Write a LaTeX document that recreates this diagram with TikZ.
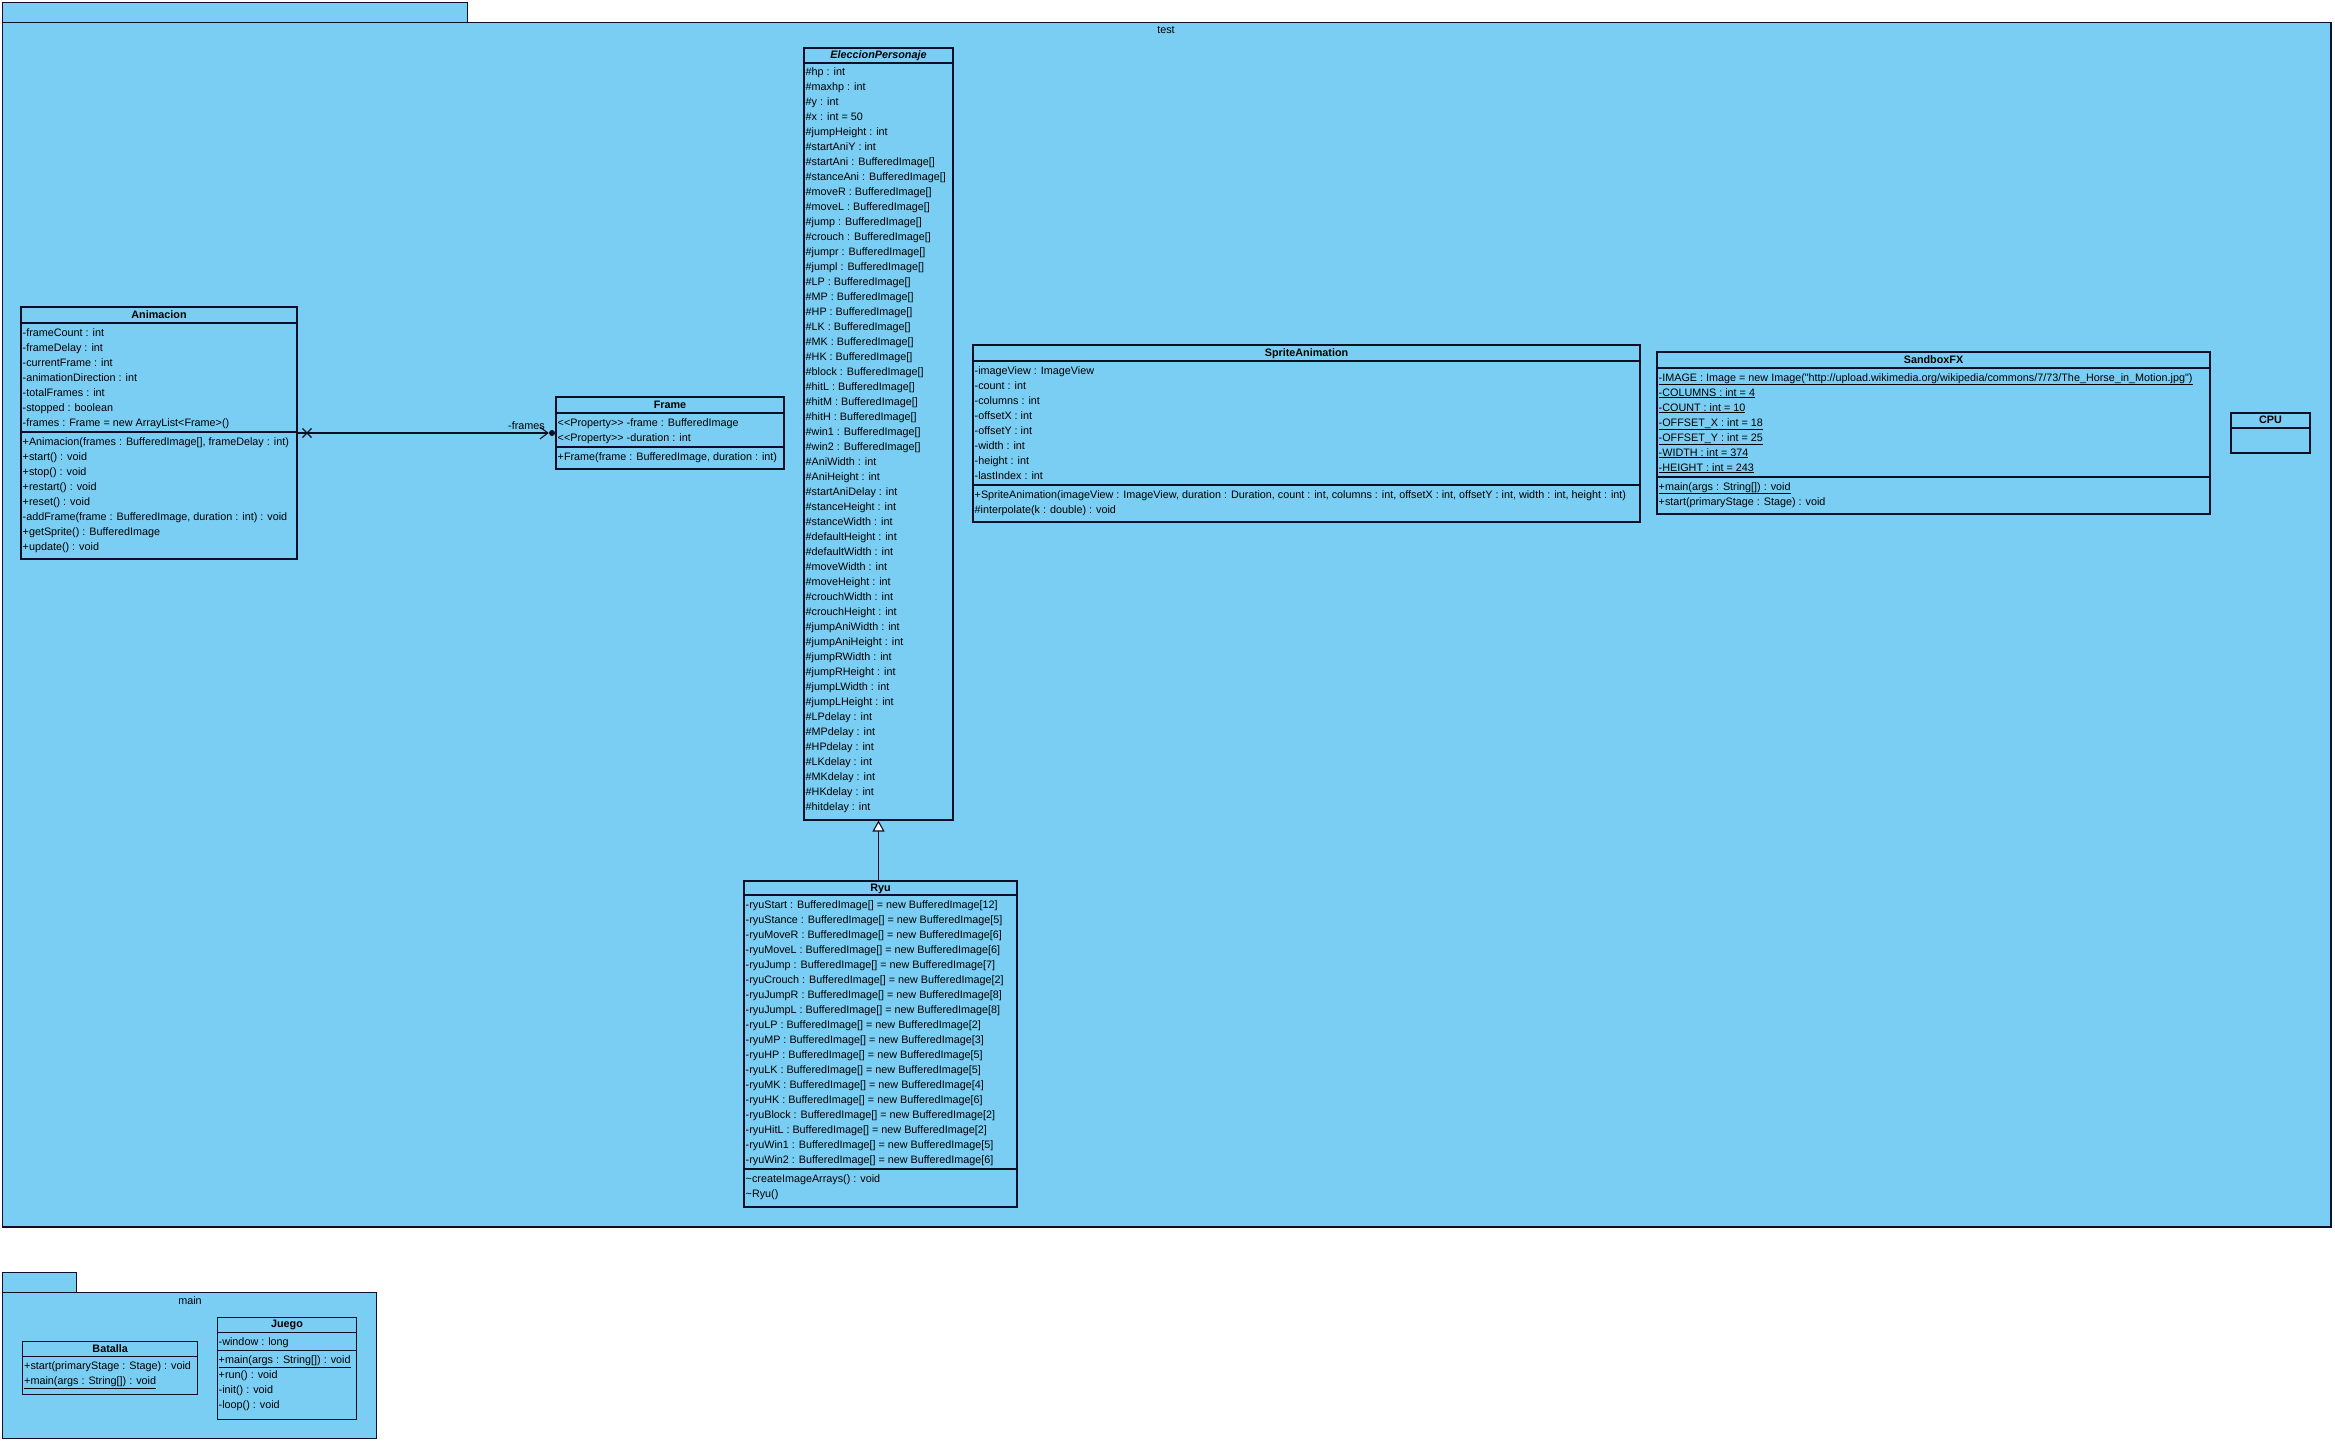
\documentclass[tikz,border=0pt]{standalone}
\usepackage{fontspec}
\setmainfont{Liberation Sans}[Ligatures=TeXOff]
\usetikzlibrary{fit,arrows.meta,shapes.misc}
\definecolor{fillc}{RGB}{122,206,243}
\definecolor{linec}{RGB}{15,15,40}
\newcommand{\rowfont}{\fontsize{10.8}{15}\selectfont}
\newcommand{\umlclass}[7]{%
  \node[cbox, fit={(#2,#3) (#4,#5)}] (#1) {};
  \draw[sepl] (#2,#6) -- (#4,#6);
  \node[hdr] (#1-title) at ({(#2+#4)/2},{(#3+#6)/2}) {#7};}
\newcommand{\usep}[3]{\draw[sepl] (#1,#3) -- (#2,#3);}
\newcommand{\crows}[4]{\foreach \t [count=\i] in {#4}{\node[row] (#1-\i) at (#2,{#3+15*(\i-1)}) {\t};}}
\newcommand{\stereo}[1]{<\kern0pt<#1>\kern0pt>}
\begin{document}
\begin{tikzpicture}[x=1pt,y=-1pt,
  cbox/.style={draw=linec, fill=fillc, line width=1.1pt, inner sep=0pt},
  pkg/.style={draw=linec, fill=fillc, line width=1.1pt, inner sep=0pt},
  sepl/.style={draw=linec, line width=1.1pt},
  row/.style={anchor=west, inner sep=0pt, font=\rowfont, text height=8pt, text depth=2pt},
  hdr/.style={inner sep=0pt, font=\rowfont\bfseries, text height=8pt, text depth=2pt},
  conn/.style={draw=linec, line width=1.1pt}]
\fill[white] (0,0) rectangle (2335,1443);
\useasboundingbox (0,0) rectangle (2335,1443);

% package test
\node[pkg, fit={(2.7,2.7) (467.7,22.3)}] (testtab) {};
\node[pkg, fit={(2.7,22.3) (2331,1227)}] (test) {};
\node[row, anchor=center] (test-lbl) at (1166,30) {test};

% package main
\node[pkg, fit={(2.7,1272.3) (76.7,1292.7)}] (maintab) {};
\node[pkg, fit={(2.7,1292.7) (376.7,1438.3)}] (main) {};
\node[row, anchor=center] (main-lbl) at (190,1301) {main};

% Animacion
\umlclass{anim}{21}{307}{297}{559}{323}{Animacion}
\crows{anim-a}{22.5}{333}{-frameCount : int,-frameDelay : int,-currentFrame : int,-animationDirection : int,-totalFrames : int,-stopped : boolean,-frames : Frame = new ArrayList<Frame>()}
\usep{21}{297}{432}
\crows{anim-m}{22.5}{442}{{+Animacion(frames : BufferedImage[], frameDelay : int)},+start() : void,+stop() : void,+restart() : void,+reset() : void,{-addFrame(frame : BufferedImage, duration : int) : void},+getSprite() : BufferedImage,+update() : void}

% Frame
\umlclass{frame}{556}{397}{784}{469}{413}{Frame}
\crows{frame-a}{557.5}{423}{\stereo{Property} -frame : BufferedImage,\stereo{Property} -duration : int}
\usep{556}{784}{447}
\crows{frame-m}{557.5}{457}{{+Frame(frame : BufferedImage, duration : int)}}

% EleccionPersonaje
\umlclass{ep}{804}{48}{953}{820}{63}{\itshape EleccionPersonaje}
\crows{ep-a}{805.5}{72.5}{\#hp : int,\#maxhp : int,\#y : int,\#x : int = 50,\#jumpHeight : int,\#startAniY : int,\#startAni : BufferedImage[],\#stanceAni : BufferedImage[],\#moveR : BufferedImage[],\#moveL : BufferedImage[],\#jump : BufferedImage[],\#crouch : BufferedImage[],\#jumpr : BufferedImage[],\#jumpl : BufferedImage[],\#LP : BufferedImage[],\#MP : BufferedImage[],\#HP : BufferedImage[],\#LK : BufferedImage[],\#MK : BufferedImage[],\#HK : BufferedImage[],\#block : BufferedImage[],\#hitL : BufferedImage[],\#hitM : BufferedImage[],\#hitH : BufferedImage[],\#win1 : BufferedImage[],\#win2 : BufferedImage[],\#AniWidth : int,\#AniHeight : int,\#startAniDelay : int,\#stanceHeight : int,\#stanceWidth : int,\#defaultHeight : int,\#defaultWidth : int,\#moveWidth : int,\#moveHeight : int,\#crouchWidth : int,\#crouchHeight : int,\#jumpAniWidth : int,\#jumpAniHeight : int,\#jumpRWidth : int,\#jumpRHeight : int,\#jumpLWidth : int,\#jumpLHeight : int,\#LPdelay : int,\#MPdelay : int,\#HPdelay : int,\#LKdelay : int,\#MKdelay : int,\#HKdelay : int,\#hitdelay : int}

% Ryu
\umlclass{ryu}{744}{881}{1017}{1207}{895}{Ryu}
\crows{ryu-a}{745.5}{905}{-ryuStart : BufferedImage[] = new BufferedImage[12],-ryuStance : BufferedImage[] = new BufferedImage[5],-ryuMoveR : BufferedImage[] = new BufferedImage[6],-ryuMoveL : BufferedImage[] = new BufferedImage[6],-ryuJump : BufferedImage[] = new BufferedImage[7],-ryuCrouch : BufferedImage[] = new BufferedImage[2],-ryuJumpR : BufferedImage[] = new BufferedImage[8],-ryuJumpL : BufferedImage[] = new BufferedImage[8],-ryuLP : BufferedImage[] = new BufferedImage[2],-ryuMP : BufferedImage[] = new BufferedImage[3],-ryuHP : BufferedImage[] = new BufferedImage[5],-ryuLK : BufferedImage[] = new BufferedImage[5],-ryuMK : BufferedImage[] = new BufferedImage[4],-ryuHK : BufferedImage[] = new BufferedImage[6],-ryuBlock : BufferedImage[] = new BufferedImage[2],-ryuHitL : BufferedImage[] = new BufferedImage[2],-ryuWin1 : BufferedImage[] = new BufferedImage[5],-ryuWin2 : BufferedImage[] = new BufferedImage[6]}
\usep{744}{1017}{1169}
\crows{ryu-m}{745.5}{1179}{\textasciitilde createImageArrays() : void,\textasciitilde Ryu()}

% SpriteAnimation
\umlclass{sprite}{973}{345}{1640}{522}{361}{SpriteAnimation}
\crows{sprite-a}{974.5}{371}{-imageView : ImageView,-count : int,-columns : int,-offsetX : int,-offsetY : int,-width : int,-height : int,-lastIndex : int}
\usep{973}{1640}{485}
\crows{sprite-m}{974.5}{495}{{+SpriteAnimation(imageView : ImageView, duration : Duration, count : int, columns : int, offsetX : int, offsetY : int, width : int, height : int)},\#interpolate(k : double) : void}

% SandboxFX
\umlclass{sandbox}{1657}{352}{2210}{514}{368}{SandboxFX}
\crows{sandbox-a}{1658.5}{378}{{\underline{-IMAGE : Image = new Image("http://upload.wikimedia.org/wikipedia/commons/7/73/The\_Horse\_in\_Motion.jpg")}},{\underline{-COLUMNS : int = 4}},{\underline{-COUNT : int = 10}},{\underline{-OFFSET\_X : int = 18}},{\underline{-OFFSET\_Y : int = 25}},{\underline{-WIDTH : int = 374}},{\underline{-HEIGHT : int = 243}}}
\usep{1657}{2210}{477}
\crows{sandbox-m}{1658.5}{487}{{\underline{+main(args : String[]) : void}},+start(primaryStage : Stage) : void}

% CPU
\umlclass{cpu}{2231}{413}{2310}{453}{428}{CPU}

% Batalla
\umlclass{batalla}{22.7}{1341.7}{197.7}{1394.3}{1356.7}{Batalla}
\crows{batalla-m}{24}{1366.7}{+start(primaryStage : Stage) : void,{\underline{+main(args : String[]) : void}}}

% Juego
\umlclass{juego}{217.3}{1317.3}{356.7}{1419.3}{1332.3}{Juego}
\crows{juego-a}{218.5}{1342.3}{-window : long}
\usep{217.3}{356.7}{1350.7}
\crows{juego-m}{218.5}{1360.7}{{\underline{+main(args : String[]) : void}},+run() : void,-init() : void,-loop() : void}

% association Animacion -> Frame
\node[draw=linec, line width=1.1pt, cross out, minimum size=8pt, inner sep=0pt] (xm) at (307,433) {};
\node[circle, fill=linec, inner sep=0pt, minimum size=6pt] (dot) at (552,433) {};
\draw[conn, -{Straight Barb[length=8pt,width=12pt]}] (anim.east) -- (dot.west);
\draw[conn] (dot) -- (frame.west);
\node[row, anchor=east] (frames-lbl) at (545,426) {-frames};

% generalization Ryu -> EleccionPersonaje
\draw[conn, -{Triangle[length=11pt,width=12pt,fill=white]}] (ryu.north -| ep.south) -- (ep.south);
\end{tikzpicture}
\end{document}
